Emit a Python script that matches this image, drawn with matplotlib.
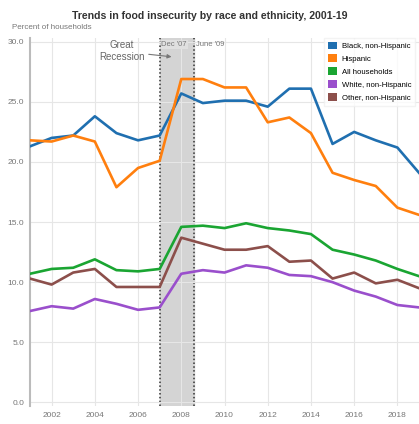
import matplotlib
matplotlib.use("Agg")
import matplotlib.pyplot as plt
from matplotlib.patches import Patch

plt.rcParams['font.family'] = ['Liberation Sans', 'DejaVu Sans']

# data (percent of households)
years = list(range(2001, 2020))
black = [21.3, 22.0, 22.2, 23.8, 22.4, 21.8, 22.2, 25.7, 24.9, 25.1, 25.1, 24.6, 26.1, 26.1, 21.5, 22.5, 21.8, 21.2, 19.1]
hispanic = [21.8, 21.7, 22.2, 21.7, 17.9, 19.5, 20.1, 26.9, 26.9, 26.2, 26.2, 23.3, 23.7, 22.4, 19.1, 18.5, 18.0, 16.2, 15.6]
all_hh = [10.7, 11.1, 11.2, 11.9, 11.0, 10.9, 11.1, 14.6, 14.7, 14.5, 14.9, 14.5, 14.3, 14.0, 12.7, 12.3, 11.8, 11.1, 10.5]
white = [7.6, 8.0, 7.8, 8.6, 8.2, 7.7, 7.9, 10.7, 11.0, 10.8, 11.4, 11.2, 10.6, 10.5, 10.0, 9.3, 8.8, 8.1, 7.9]
other = [10.3, 9.8, 10.8, 11.1, 9.6, 9.6, 9.6, 13.7, 13.2, 12.7, 12.7, 13.0, 11.7, 11.8, 10.3, 10.8, 9.9, 10.2, 9.5]

series = [
    ("Black, non-Hispanic", black, "#1f6fb0"),
    ("Hispanic", hispanic, "#ff7f0e"),
    ("All households", all_hh, "#1aa532"),
    ("White, non-Hispanic", white, "#9a4fcc"),
    ("Other, non-Hispanic", other, "#8c4f4b"),
]

fig = plt.figure(figsize=(4.19, 4.24), dpi=100)
ax = fig.add_axes([0.0716, 0.0425, 0.9284, 0.8675])

# recession shading
rec_start, rec_end = 2007.0, 2008.58
ax.axvspan(rec_start, rec_end, color="#d4d4d4", zorder=0)
ax.axvline(rec_start, color="#333333", ls=(0, (1, 1.5)), lw=1.1, zorder=1)
ax.axvline(rec_end, color="#333333", ls=(0, (1, 1.5)), lw=1.1, zorder=1)

for name, vals, col in series:
    ax.plot(years, vals, color=col, lw=1.9, zorder=3)

ax.set_xlim(2001, 2019)
ax.set_ylim(-0.3, 30.3)
ax.set_yticks([0, 5, 10, 15, 20, 25, 30])
ax.set_yticklabels(["%.1f" % v for v in [0, 5, 10, 15, 20, 25, 30]])
ax.set_xticks(list(range(2002, 2019, 2)))
ax.grid(True, color="#e6e6e6", lw=0.8, zorder=0)
ax.tick_params(length=0, labelsize=6, colors="#777777", pad=4)
for s in ["top", "right", "bottom"]:
    ax.spines[s].set_visible(False)
ax.spines["left"].set_color("#bbbbbb")
ax.spines["left"].set_linewidth(1.5)

# labels
ax.text(rec_start + 0.08, 30.05, "Dec '07", fontsize=5.5, color="#777777", va="top", ha="left",
        bbox=dict(facecolor="#e0e0e0", edgecolor="none", pad=0.5), zorder=4)
ax.text(rec_end + 0.08, 30.05, "June '09", fontsize=5.5, color="#777777", va="top", ha="left", zorder=4)
ax.annotate("Great\nRecession", xy=(2007.55, 28.75), xytext=(2005.25, 29.2),
            fontsize=7, color="#666666", ha="center", va="center", linespacing=1.25,
            arrowprops=dict(arrowstyle="-|>", color="#777777", lw=0.8, mutation_scale=6,
                            shrinkA=1, shrinkB=0))

handles = [Patch(facecolor=c, label=n) for n, v, c in series]
ax.legend(handles=handles, loc="upper right", fontsize=5.6, frameon=True, fancybox=False,
          edgecolor="#f0f0f0", handlelength=1.2, handleheight=1.2, labelspacing=0.55,
          borderpad=0.5, handletextpad=0.6, bbox_to_anchor=(1.0, 1.012))

fig.text(0.5, 0.962, "Trends in food insecurity by race and ethnicity, 2001-19",
         fontsize=7.6, fontweight="bold", color="#333333", ha="center", va="center")
fig.text(0.028, 0.934, "Percent of households", fontsize=5.8, color="#777777", ha="left", va="center")

fig.savefig("out.png", dpi=100)
